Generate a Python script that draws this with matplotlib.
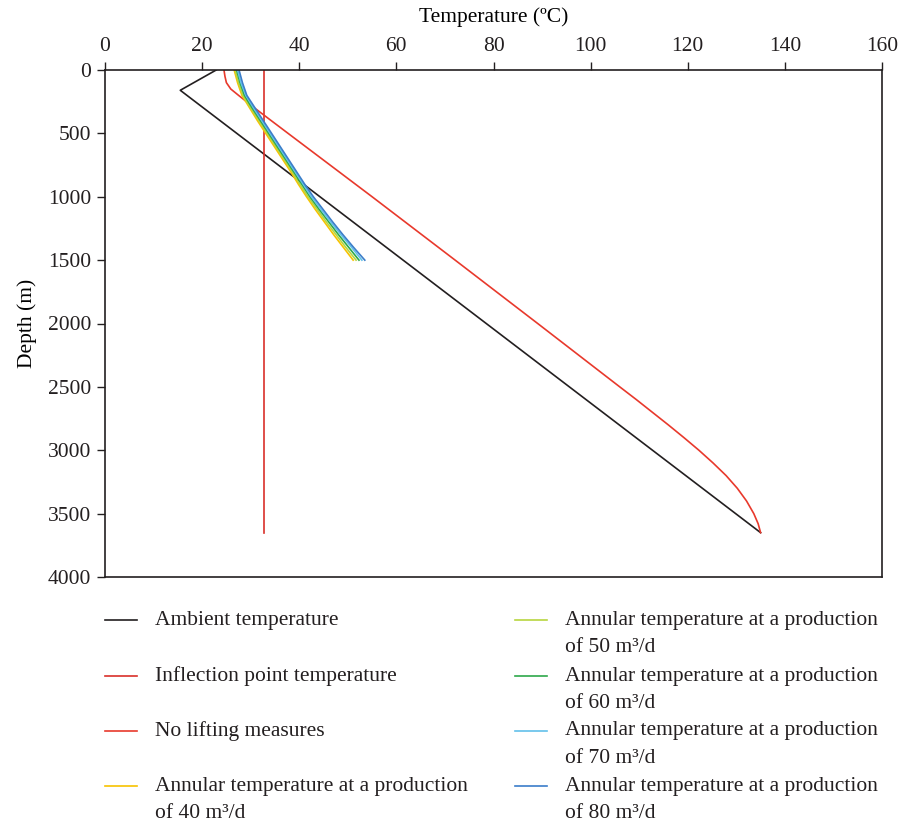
import matplotlib
matplotlib.use("Agg")
import matplotlib.pyplot as plt
from matplotlib.lines import Line2D

plt.rcParams['font.family'] = ['Liberation Serif', 'DejaVu Serif']

# Ambient (geothermal) temperature profile
ambient_depth = [0, 160, 3650]
ambient_temp = [22.9, 15.5, 135.0]

# Inflection point temperature (constant with depth)
inflection_depth = [0, 3650]
inflection_temp = [32.7, 32.7]

# Wellbore temperature with no lifting measures
nolift_depth = [0, 50, 100, 150, 200, 300, 500, 1000, 1500, 2000, 2500, 2600, 2700,
                2800, 2900, 3000, 3100, 3200, 3300, 3400, 3500, 3580, 3650]
nolift_temp = [24.5, 24.7, 25.0, 25.9, 27.5, 30.8, 37.7, 55.0, 72.1, 89.1, 106.0, 109.4, 112.7,
               116.0, 119.2, 122.3, 125.2, 127.9, 130.2, 132.1, 133.6, 134.5, 135.0]

# Annular temperature for different production rates
annular_depth = [0, 100, 200, 300, 400, 500, 600, 700, 800, 900, 1000,
                 1100, 1200, 1300, 1400, 1500]
annular_40 = [26.6, 27.3, 28.2, 29.8, 31.4, 33.1, 34.8, 36.5, 38.2, 39.8, 41.5,
              43.3, 45.2, 47.1, 49.1, 51.1]
annular_50 = [26.8, 27.5, 28.4, 30.0, 31.7, 33.4, 35.1, 36.8, 38.5, 40.1, 41.8,
              43.7, 45.6, 47.6, 49.6, 51.7]
annular_60 = [27.1, 27.8, 28.7, 30.3, 32.0, 33.7, 35.4, 37.1, 38.8, 40.5, 42.2,
              44.1, 46.1, 48.1, 50.2, 52.3]
annular_70 = [27.3, 28.0, 29.0, 30.6, 32.3, 34.0, 35.7, 37.4, 39.1, 40.8, 42.5,
              44.5, 46.5, 48.6, 50.8, 52.9]
annular_80 = [27.6, 28.3, 29.2, 30.9, 32.6, 34.3, 36.0, 37.7, 39.4, 41.1, 42.9,
              44.9, 46.9, 49.0, 51.2, 53.5]

rates = [40, 50, 60, 70, 80]
annular = [annular_40, annular_50, annular_60, annular_70, annular_80]
annular_colors = ['#f7c200', '#b8d640', '#2ea84a', '#62c0ea', '#3b7dc9']

fs = 15.5
fig = plt.figure(figsize=(8.99, 8.27), dpi=100)
ax = fig.add_axes([105 / 899, 1 - 577 / 827, (882 - 105) / 899, (577 - 70) / 827])

ax.plot(ambient_temp, ambient_depth, color='#231f20', lw=1.2)
ax.plot(inflection_temp, inflection_depth, color='#d9302a', lw=1.2)
ax.plot(nolift_temp, nolift_depth, color='#e8392c', lw=1.2)
for vals, c in zip(annular, annular_colors):
    ax.plot(vals, annular_depth, color=c, lw=1.2)

ax.set_xlim(0, 160)
ax.set_ylim(4000, 0)
ax.set_xticks(range(0, 161, 20))
ax.set_yticks(range(0, 4001, 500))
ax.xaxis.tick_top()
ax.xaxis.set_label_position('top')
ax.set_xlabel('Temperature (ºC)', fontsize=fs, labelpad=11)
ax.set_ylabel('Depth (m)', fontsize=fs, labelpad=8)
ax.tick_params(direction='out', length=6, width=1.0, labelsize=fs, colors='#231f20', pad=4)
for sp in ax.spines.values():
    sp.set_linewidth(1.2)
    sp.set_color('#231f20')

# Legend drawn in two columns below the axes
entries = [
    ('#231f20', ['Ambient temperature']),
    ('#d9302a', ['Inflection point temperature']),
    ('#e8392c', ['No lifting measures']),
]
for r, c in zip(rates, annular_colors):
    entries.append((c, ['Annular temperature at a production', f'of {r} m³/d']))

row_y = [620, 676, 731, 786]
col_x = [105, 515]
for i, (color, lines) in enumerate(entries):
    col, row = divmod(i, 4)
    x0 = col_x[col]
    y0 = row_y[row]
    fig.add_artist(Line2D([x0 / 899, (x0 + 32) / 899], [1 - y0 / 827] * 2,
                          color=color, lw=1.2, transform=fig.transFigure))
    for k, txt in enumerate(lines):
        fig.text((x0 + 50) / 899, 1 - (y0 + k * 27.5) / 827, txt,
                 fontsize=fs, va='center', ha='left', color='#231f20')

fig.savefig('out.png', dpi=100)
